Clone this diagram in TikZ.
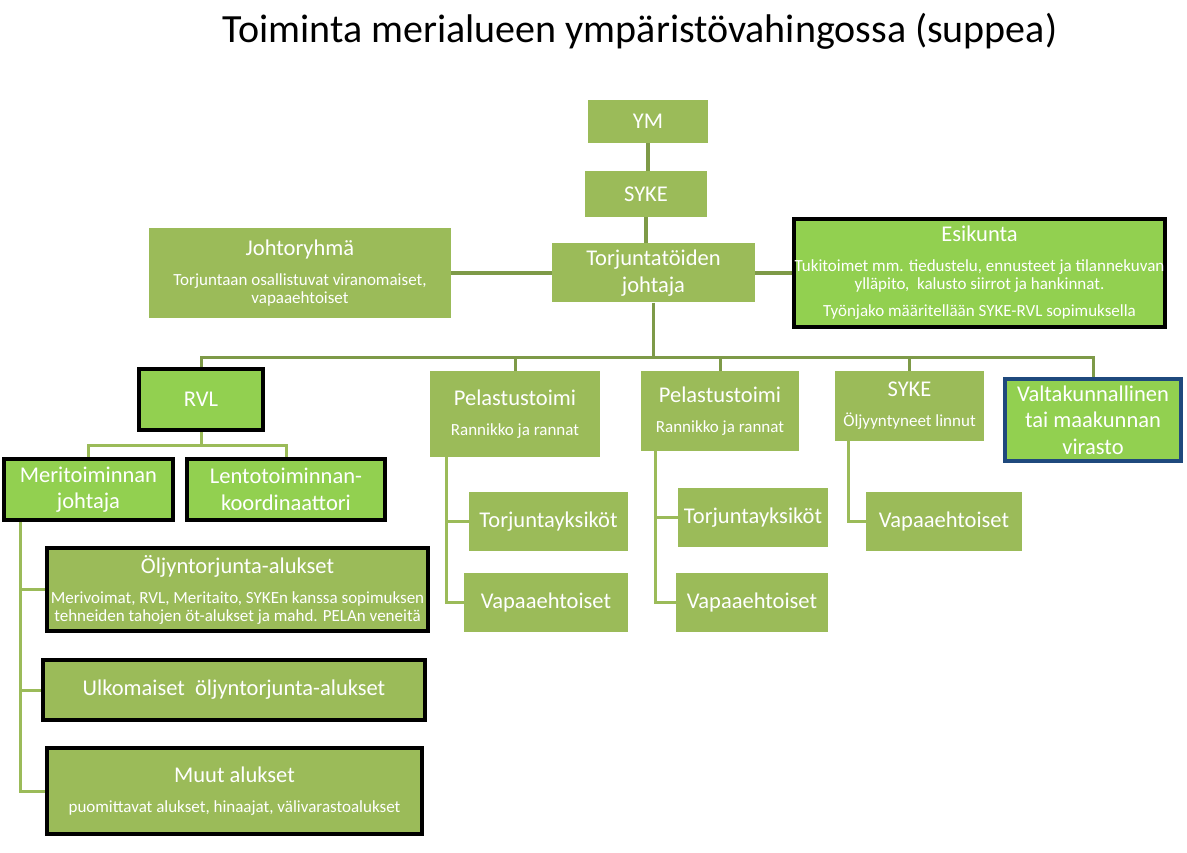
\documentclass[tikz,border=0pt]{standalone}
\usepackage{fontspec}
\setmainfont{Carlito}
\usepackage{tikz}
\usetikzlibrary{positioning,calc}
\definecolor{olivebox}{HTML}{9BBB59}
\definecolor{brightbox}{HTML}{92D050}
\definecolor{darkline}{HTML}{7E9A48}
\definecolor{blueedge}{HTML}{1F497D}
\newcommand{\notes}[1]{\par\vspace{12pt}{\fontsize{17}{18}\selectfont #1\par}}

\begin{document}
\begin{tikzpicture}[x=1pt,y=-1pt,
    box/.style={fill=olivebox,text=white,inner sep=2pt,align=flush center,
      font=\fontsize{22.5}{26.5}\selectfont,minimum width=#1},
    box/.default=120pt,
    strongbox/.style={box=#1,fill=brightbox,draw=black,line width=4pt},
    shipbox/.style={box=#1,draw=black,line width=4pt},
    bluebox/.style={box=#1,fill=brightbox,draw=blueedge,line width=4pt},
    mainline/.style={darkline,line width=3.5pt},
    busline/.style={darkline,line width=3pt},
    subline/.style={olivebox,line width=3pt}]
  \useasboundingbox (0,0) rectangle (1187,853);
  \node (title) at (640,31) {\fontsize{40}{46}\selectfont Toiminta merialueen ympäristövahingossa (suppea)};
  % top of the chain
  \node[box=120pt,minimum height=43pt] (ym) at (648,121.5) {YM};
  \node[box=122pt,minimum height=46pt] (syke) at (646,194) {SYKE};
  \node[box=203pt,minimum height=59pt] (tj) at (653.5,273) {Torjuntatöiden\\johtaja};
  \node[box=302pt,minimum height=90pt,inner xsep=0pt,text width=302pt] (jr) at (300,273)
    {Johtoryhmä\notes{Torjuntaan osallistuvat viranomaiset,\par vapaaehtoiset}};
  \node[strongbox=371pt,minimum height=108pt,inner xsep=0pt,text width=371pt] (ek) at (979.5,273)
    {Esikunta\notes{Tukitoimet mm. tiedustelu, ennusteet ja tilannekuvan\par ylläpito,\ \ kalusto siirrot ja hankinnat.\par\vspace{9pt}Työnjako määritellään SYKE-RVL sopimuksella}};
  % second level
  \node[strongbox=124pt,minimum height=61pt] (rvl) at (201,399.5) {RVL};
  \node[box=170pt,minimum height=86pt,inner xsep=0pt,text width=170pt] (pe1) at (515,414) {Pelastustoimi\notes{Rannikko ja rannat}};
  \node[box=158pt,minimum height=80pt,inner xsep=0pt,text width=158pt] (pe2) at (720,411) {Pelastustoimi\notes{Rannikko ja rannat}};
  \node[box=149pt,minimum height=70pt,inner xsep=0pt,text width=149pt] (sy2) at (909.5,406) {SYKE\notes{Öljyyntyneet linnut}};
  \node[bluebox=176pt,minimum height=82pt] (vk) at (1093,420) {Valtakunnallinen\\tai maakunnan\\virasto};
  % RVL branch
  \node[strongbox=169pt,minimum height=61pt] (mj) at (88.5,489.5) {Meritoiminnan\\johtaja};
  \node[strongbox=198pt,minimum height=61pt] (lk) at (286,489.5) {Lentotoiminnan-\\koordinaattori};
  \node[shipbox=381pt,minimum height=83pt,inner xsep=0pt,text width=381pt] (oa) at (237.5,589.5)
    {Öljyntorjunta-alukset\notes{Merivoimat, RVL, Meritaito, SYKEn kanssa sopimuksen\par tehneiden tahojen öt-alukset ja mahd. PELAn veneitä}};
  \node[shipbox=382pt,minimum height=60pt] (ua) at (234,690) {Ulkomaiset\ \ öljyntorjunta-alukset};
  \node[shipbox=375pt,minimum height=86pt,inner xsep=0pt,text width=375pt] (ma) at (234.5,791)
    {Muut alukset\notes{puomittavat alukset, hinaajat, välivarastoalukset}};
  % units under the rescue services and SYKE
  \node[box=159pt,minimum height=59pt] (ty1) at (548.5,521.5) {Torjuntayksiköt};
  \node[box=164pt,minimum height=59pt] (va1) at (546,602.5) {Vapaaehtoiset};
  \node[box=150pt,minimum height=59pt] (ty2) at (753,517.5) {Torjuntayksiköt};
  \node[box=152pt,minimum height=59pt] (va2) at (752,602.5) {Vapaaehtoiset};
  \node[box=156pt,minimum height=59pt] (va3) at (944,521.5) {Vapaaehtoiset};
  % connectors
  \draw[mainline] (ym.south) -- (ym.south |- syke.north);
  \draw[mainline] (syke.south) -- (syke.south |- tj.north);
  \draw[mainline] (jr.east) -- (tj.west);
  \draw[mainline] (tj.east) -- (ek.west);
  \coordinate (bus) at (653.5,357);
  \draw[busline] (tj.south) -- (bus);
  \foreach \n in {rvl,pe1,pe2,sy2,vk}
    \draw[busline] (bus) -| (\n.north);
  \coordinate (rvlbus) at (201,445);
  \draw[subline] (rvl.south) -- (rvlbus);
  \draw[subline] (rvlbus) -| (mj.north);
  \draw[subline] (rvlbus) -| (lk.north);
  \coordinate (mjspine) at (20,522);
  \foreach \n in {oa,ua,ma} \draw[subline] (mjspine) |- (\n.west);
  \coordinate (pe1spine) at (446,457);
  \foreach \n in {ty1,va1} \draw[subline] (pe1spine) |- (\n.west);
  \coordinate (pe2spine) at (655,451);
  \foreach \n in {ty2,va2} \draw[subline] (pe2spine) |- (\n.west);
  \coordinate (sy2spine) at (848,441);
  \draw[subline] (sy2spine) |- (va3.west);
\end{tikzpicture}
\end{document}
